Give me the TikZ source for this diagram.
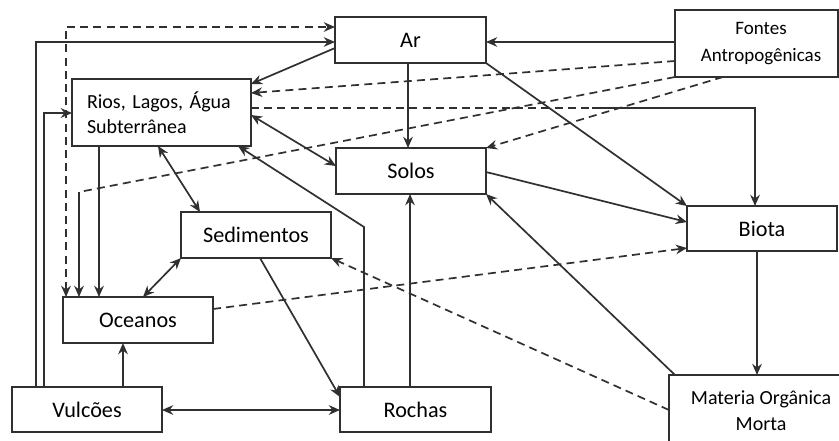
\documentclass[tikz,border=0pt]{standalone}
\usepackage{fontspec}
\setmainfont{Carlito}
\frenchspacing
\usetikzlibrary{arrows.meta,calc}
\definecolor{ink}{HTML}{303030}
\begin{document}
\begin{tikzpicture}[x=0.5pt,y=-0.5pt,
  >={Stealth[length=5.6pt,width=4.8pt]},
  box/.style={draw=ink,line width=1pt,inner sep=0pt,outer sep=0pt,anchor=north west,align=center,text=black,font=\fontsize{11.1}{13}\selectfont},
  conn/.style={draw=ink,line width=0.85pt},
  dsh/.style={conn,dash pattern=on 4pt off 2.6pt}]
\useasboundingbox (0,0) rectangle (839,440);
% boxes
\node[box,minimum width=75.5pt,minimum height=23pt] (ar) at (335,17) {Ar};
\node[box,minimum width=81.5pt,minimum height=33.5pt,font=\fontsize{9.5}{13.5}\selectfont] (fontes) at (675,10) {\hspace*{4.5pt}Fontes\\\hspace*{4.5pt}Antropogênicas};
\node[box,minimum height=33.5pt,text width=74.5pt,inner xsep=7.5pt,align=left,font=\fontsize{10}{12.5}\selectfont] (rios) at (72,79) {Rios, Lagos, Água\\Subterrânea};
\node[box,minimum width=75pt,minimum height=23pt] (solos) at (336,148) {Solos};
\node[box,minimum width=75pt,minimum height=23pt] (sed) at (181,212) {Sedimentos};
\node[box,minimum width=75pt,minimum height=22.5pt] (biota) at (687,206) {Biota};
\node[box,minimum width=75pt,minimum height=23pt] (oce) at (63,297) {Oceanos};
\node[box,minimum width=75pt,minimum height=22.5pt] (vulc) at (12,387) {Vulcões};
\node[box,minimum width=75.5pt,minimum height=22.5pt] (rochas) at (340,387) {Rochas};
\node[box,minimum width=92pt,minimum height=36pt,font=\fontsize{10}{13}\selectfont] (mat) at (669,375) {Materia Orgânica\\Morta};
% helper coordinates
\coordinate (v1) at ($(vulc.north west)+(24,0)$);
\coordinate (a1) at ($(ar.north west)+(0,25)$);
\coordinate (v2) at ($(vulc.north west)+(32,0)$);
\coordinate (r1) at ($(rios.north west)+(0,34)$);
\coordinate (o1) at ($(oce.north west)+(3,0)$);
\coordinate (a2) at ($(ar.north west)+(0,10)$);
\coordinate (k) at (79,192);
\coordinate (f1) at ($(fontes.south west)+(48,0)$);
\coordinate (f2) at ($(fontes.north west)+(0,51)$);
\coordinate (r2) at ($(rios.north east)+(0,14)$);
\coordinate (f3) at ($(fontes.north west)+(0,32)$);
\coordinate (r3) at ($(rios.north east)+(0,29)$);
\coordinate (m) at (592,108);
\coordinate (b1) at ($(biota.north west)+(68,0)$);
\coordinate (a3) at ($(ar.north west)+(0,31)$);
\coordinate (r4) at ($(rios.north east)+(0,5)$);
\coordinate (a4) at ($(ar.south west)+(73,0)$);
\coordinate (s1) at ($(solos.north east)+(0,24)$);
\coordinate (b2) at ($(biota.north west)+(0,16)$);
\coordinate (r5) at ($(rios.north east)+(0,36)$);
\coordinate (s2) at ($(solos.north west)+(0,18)$);
\coordinate (r6) at ($(rios.south west)+(86,0)$);
\coordinate (e1) at ($(sed.north west)+(19,0)$);
\coordinate (q1) at ($(rochas.north west)+(24,0)$);
\coordinate (q2) at (364,227);
\coordinate (r7) at ($(rios.south west)+(166,0)$);
\coordinate (q3) at ($(rochas.north west)+(70,0)$);
\coordinate (e2) at ($(sed.south west)+(79,0)$);
\coordinate (q4) at ($(rochas.north west)+(0,10)$);
\coordinate (o2) at ($(oce.north west)+(80,0)$);
\coordinate (r8) at ($(rios.south west)+(27,0)$);
\coordinate (v3) at ($(vulc.north west)+(111,0)$);
\coordinate (v4) at ($(vulc.north east)+(0,23)$);
\coordinate (o3) at ($(oce.north east)+(0,12)$);
\coordinate (b3) at ($(biota.north west)+(0,42)$);
\coordinate (t1) at ($(mat.north west)+(0,35)$);
\coordinate (t2) at ($(mat.north west)+(6,0)$);
\coordinate (b4) at ($(biota.south west)+(70,0)$);
% solid connectors
\draw[conn,->] (v1) |- (a1);
\draw[conn,->] (v2) |- (r1);
\draw[conn,->] (f3) -- (ar.east |- f3);
\draw[conn,->] (a3) -- (r4);
\draw[conn,->] (a4) -- (a4 |- solos.north);
\draw[conn,->] (ar.south east) -- (biota.north west);
\draw[conn,->] (s1) -- (b2);
\draw[conn,<->] (r5) -- (s2);
\draw[conn,<->] (r6) -- (e1);
\draw[conn,->] (q1) -- (q2) -- (r7);
\draw[conn,->] (q3) -- (q3 |- solos.south);
\draw[conn,->] (e2) -- (q4);
\draw[conn,<->] (sed.south west) -- (o2);
\draw[conn,->] (r8) -- (r8 |- oce.north);
\draw[conn,->] (v3) -- (v3 |- oce.south);
\draw[conn,<->] (v4) -- (rochas.west |- v4);
\draw[conn,->] (t2) -- (solos.south east);
\draw[conn,->] (b4) -- (b4 |- mat.north);
\draw[conn,->] (m) -| (b1);
\draw[conn,->] (k) -- (k |- oce.north);
% dashed connectors
\draw[dsh,<->] (o1) |- (a2);
\draw[dsh] (fontes.south west) -- (k);
\draw[dsh,->] (f1) -- (solos.north east);
\draw[dsh,->] (f2) -- (r2);
\draw[dsh] (r3) -- (m);
\draw[dsh,->] (o3) -- (b3);
\draw[dsh,->] (t1) -- (sed.south east);
\end{tikzpicture}
\end{document}
